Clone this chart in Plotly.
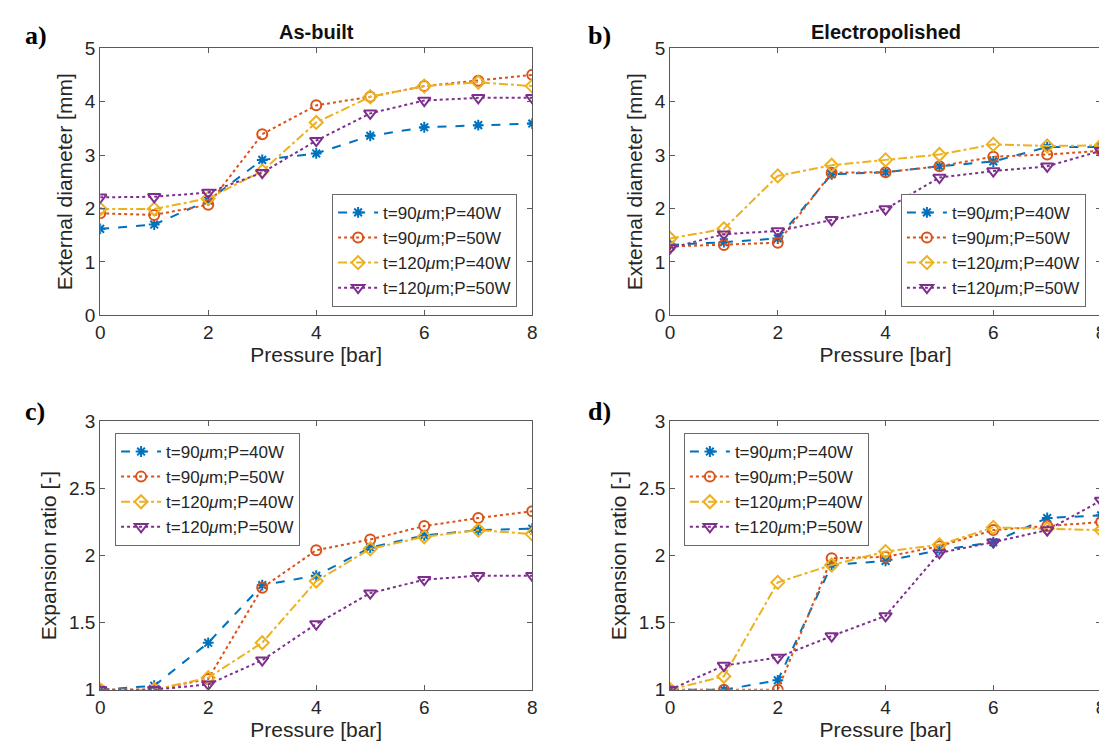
import plotly.graph_objects as go

pressure = [0, 1, 2, 3, 4, 5, 6, 7, 8]
series_names = ["t=90<i>μ</i>m;P=40W", "t=90<i>μ</i>m;P=50W",
                "t=120<i>μ</i>m;P=40W", "t=120<i>μ</i>m;P=50W"]

# a) As-built external diameter [mm]
asbuilt_d_90_40 = [1.62, 1.70, 2.15, 2.91, 3.03, 3.36, 3.52, 3.56, 3.59]
asbuilt_d_90_50 = [1.91, 1.88, 2.07, 3.39, 3.93, 4.09, 4.29, 4.39, 4.50]
asbuilt_d_120_40 = [1.99, 1.99, 2.19, 2.70, 3.61, 4.09, 4.29, 4.36, 4.29]
asbuilt_d_120_50 = [2.21, 2.22, 2.30, 2.67, 3.27, 3.78, 4.02, 4.07, 4.07]

# b) Electropolished external diameter [mm]
ep_d_90_40 = [1.32, 1.37, 1.44, 2.64, 2.68, 2.79, 2.88, 3.15, 3.15]
ep_d_90_50 = [1.29, 1.32, 1.36, 2.67, 2.68, 2.79, 2.97, 3.01, 3.08]
ep_d_120_40 = [1.44, 1.62, 2.61, 2.81, 2.91, 3.01, 3.20, 3.17, 3.18]
ep_d_120_50 = [1.26, 1.52, 1.58, 1.79, 1.99, 2.58, 2.70, 2.79, 3.08]

# c) As-built expansion ratio [-]
asbuilt_r_90_40 = [1.00, 1.03, 1.35, 1.78, 1.85, 2.06, 2.15, 2.19, 2.20]
asbuilt_r_90_50 = [1.00, 1.00, 1.08, 1.76, 2.04, 2.12, 2.22, 2.28, 2.33]
asbuilt_r_120_40 = [1.00, 1.00, 1.09, 1.35, 1.81, 2.05, 2.14, 2.19, 2.16]
asbuilt_r_120_50 = [1.00, 1.00, 1.04, 1.22, 1.49, 1.72, 1.82, 1.85, 1.85]

# d) Electropolished expansion ratio [-]
ep_r_90_40 = [1.00, 1.00, 1.07, 1.93, 1.96, 2.04, 2.10, 2.28, 2.30]
ep_r_90_50 = [1.00, 1.00, 1.00, 1.98, 1.99, 2.07, 2.19, 2.22, 2.25]
ep_r_120_40 = [1.00, 1.10, 1.80, 1.93, 2.03, 2.08, 2.21, 2.20, 2.19]
ep_r_120_50 = [1.00, 1.18, 1.24, 1.40, 1.55, 2.02, 2.10, 2.19, 2.41]

x_ticks = [0, 2, 4, 6, 8]
y_ticks_diam = [0, 1, 2, 3, 4, 5]
y_ticks_ratio = [1, 1.5, 2, 2.5, 3]

colors = ["#0072BD", "#D95319", "#EDB120", "#7E2F8E"]
dashes = ["dash", "dot", "dashdot", "dot"]
symbols = ["asterisk-open", "circle-open", "diamond-open", "triangle-down-open"]
msizes = [9, 10, 10, 11]

W, H = 1107, 753
def px(x):
    return x / W
def py(y):
    return 1 - y / H

panels = [
    dict(data=[asbuilt_d_90_40, asbuilt_d_90_50, asbuilt_d_120_40, asbuilt_d_120_50],
         xd=(88, 524), yd=(31, 306), yr=[0, 5], yt=y_ticks_diam, ytitle="External diameter [mm]",
         leg=(322, 239), title="As-built", letter="a)", lx=10, ly=18),
    dict(data=[ep_d_90_40, ep_d_90_50, ep_d_120_40, ep_d_120_50],
         xd=(663, 1098), yd=(31, 306), yr=[0, 5], yt=y_ticks_diam, ytitle="External diameter [mm]",
         leg=(896, 239), title="Electropolished", letter="b)", lx=578, ly=18),
    dict(data=[asbuilt_r_90_40, asbuilt_r_90_50, asbuilt_r_120_40, asbuilt_r_120_50],
         xd=(88, 524), yd=(415, 691), yr=[1, 3], yt=y_ticks_ratio, ytitle="Expansion ratio [-]",
         leg=(103, 485), title=None, letter="c)", lx=10, ly=405),
    dict(data=[ep_r_90_40, ep_r_90_50, ep_r_120_40, ep_r_120_50],
         xd=(663, 1098), yd=(415, 691), yr=[1, 3], yt=y_ticks_ratio, ytitle="Expansion ratio [-]",
         leg=(677, 485), title=None, letter="d)", lx=578, ly=405),
]

fig = go.Figure()
axis_color = "#5a5a5a"
text_color = "#262626"
font_family = "Liberation Sans, Arial, sans-serif"
annotations = []
layout = {}

for i, p in enumerate(panels):
    n = i + 1
    sfx = "" if n == 1 else str(n)
    legname = "legend" if n == 1 else f"legend{n}"
    for k in range(4):
        fig.add_trace(go.Scatter(
            x=pressure, y=p["data"][k], mode="lines+markers", name=series_names[k],
            line=dict(color=colors[k], dash=dashes[k], width=2),
            marker=dict(symbol=symbols[k], size=msizes[k], color=colors[k],
                        line=dict(width=2, color=colors[k])),
            xaxis="x" + sfx, yaxis="y" + sfx, legend=legname, showlegend=True))
    common = dict(showline=True, linecolor=axis_color, linewidth=1, mirror="ticks",
                  ticks="inside", ticklen=5, tickcolor=axis_color, showgrid=False,
                  zeroline=False, tickfont=dict(size=19, color=text_color, family=font_family))
    layout["xaxis" + sfx] = dict(common, domain=[px(p["xd"][0]), px(p["xd"][1])],
                                 range=[0, 8], tickvals=x_ticks, anchor="y" + sfx,
                                 title=dict(text="Pressure [bar]", standoff=4,
                                            font=dict(size=21, color=text_color, family=font_family)))
    layout["yaxis" + sfx] = dict(common, domain=[py(p["yd"][1]), py(p["yd"][0])],
                                 range=p["yr"], tickvals=p["yt"], anchor="x" + sfx,
                                 title=dict(text=p["ytitle"], standoff=6,
                                            font=dict(size=21, color=text_color, family=font_family)))
    layout[legname] = dict(x=px(p["leg"][0]), y=py(p["leg"][1]), xanchor="left", yanchor="middle",
                           bgcolor="white", bordercolor="#6a6a6a", borderwidth=1,
                           font=dict(size=17, color=text_color, family=font_family),
                           tracegroupgap=0, itemwidth=40)
    if p["title"]:
        annotations.append(dict(text="<b>" + p["title"] + "</b>", xref="paper", yref="paper",
                                x=px((p["xd"][0] + p["xd"][1]) / 2), y=py(14), showarrow=False,
                                xanchor="center", yanchor="middle",
                                font=dict(size=20, color="#111", family=font_family)))
    annotations.append(dict(text="<b>" + p["letter"] + "</b>", xref="paper", yref="paper",
                            x=px(p["lx"]), y=py(p["ly"]), showarrow=False,
                            xanchor="left", yanchor="middle",
                            font=dict(size=26, color="black",
                                      family="Liberation Serif, Times New Roman, serif")))

fig.update_layout(**layout)
fig.update_layout(width=W, height=H, margin=dict(l=0, r=0, t=0, b=0),
                  paper_bgcolor="white", plot_bgcolor="white", annotations=annotations,
                  showlegend=True)
fig.write_html("out.html")
